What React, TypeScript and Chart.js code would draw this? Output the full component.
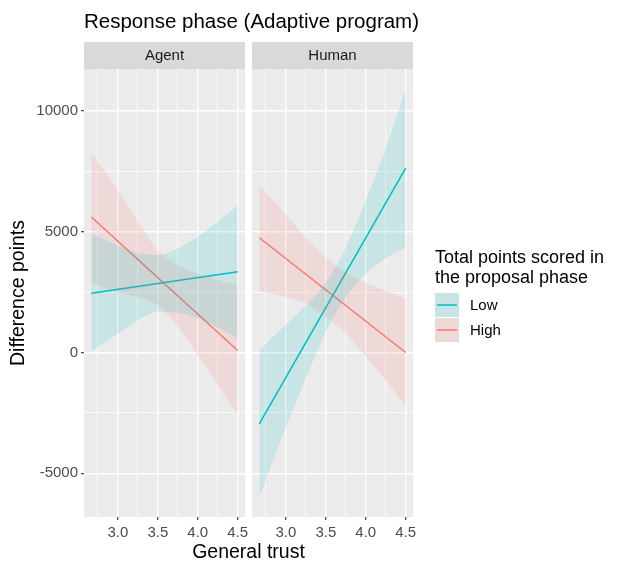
import React, { useEffect, useRef } from "react";
import { Chart, registerables } from "chart.js";

Chart.register(...registerables);

const FONT = "'Liberation Sans', Arial, Helvetica, sans-serif";

// ---------- data ----------
const facets = ["Agent", "Human"];
const groups = ["Low", "High"];
const groupColors = ["#00BFC4", "#F8766D"];
const bandFills = ["rgba(0,191,196,0.15)", "rgba(248,118,109,0.15)"];

const legendTitle = ["Total points scored in", "the proposal phase"];
const chartTitle = "Response phase (Adaptive program)";
const xTitle = "General trust";
const yTitle = "Difference points";

const bandX = [2.667, 3.0, 3.25, 3.5, 3.75, 4.0, 4.25, 4.5];
const lineX = [2.667, 4.5];

// Agent facet
const agentLowLine = [2451, 3346];
const agentLowUpper = [4930, 4448, 4131, 4035, 4310, 4792, 5412, 6100];
const agentLowLower = [40, 780, 1341, 1681, 1650, 1412, 1036, 592];
const agentHighLine = [5611, 83];
const agentHighUpper = [8262, 6720, 5412, 4241, 3621, 3277, 3002, 2768];
const agentHighLower = [2900, 2492, 2292, 1955, 1067, -97, -1330, -2602];

// Human facet
const humanLowLine = [-2955, 7641];
const humanLowUpper = [112, 1150, 1950, 2900, 4350, 6300, 8450, 10900];
const humanLowLower = [-5970, -3100, -1064, 850, 2300, 3250, 3900, 4326];
const humanHighLine = [4754, 0];
const humanHighUpper = [6904, 5731, 4765, 3937, 3316, 2902, 2557, 2240];
const humanHighLower = [2553, 2304, 2028, 1477, 787, -179, -1145, -2249];

// ticks
const xMajor = [3.0, 3.5, 4.0, 4.5];
const xMinor = [2.75, 3.25, 3.75, 4.25];
const yMajor = [-5000, 0, 5000, 10000];
const yMinor = [-2500, 2500, 7500];

// ---------- layout constants ----------
const W = 626;
const H = 561;
const PLOT_TOP = 69;
const PLOT_BOTTOM = 517;
const P1_LEFT = 84;
const P_WIDTH = 161;
const GAP = 7;
const P2_LEFT = P1_LEFT + P_WIDTH + GAP;
const STRIP_TOP = 42;
const TICK_SIZE = 15;

// ---------- scale ranges (ggplot-like 5% expansion) ----------
const allY = [
  ...agentLowUpper, ...agentLowLower, ...agentHighUpper, ...agentHighLower,
  ...humanLowUpper, ...humanLowLower, ...humanHighUpper, ...humanHighLower,
  ...agentLowLine, ...agentHighLine, ...humanLowLine, ...humanHighLine,
];
const yLo = Math.min(...allY);
const yHi = Math.max(...allY);
const yMin = yLo - 0.05 * (yHi - yLo);
const yMax = yHi + 0.05 * (yHi - yLo);
const xLo = Math.min(...bandX);
const xHi = Math.max(...bandX);
const xMin = xLo - 0.05 * (xHi - xLo);
const xMax = xHi + 0.05 * (xHi - xLo);

const near = (arr: number[], v: number) => arr.some((a) => Math.abs(a - v) < 1e-6);

function pts(xs: number[], ys: number[]) {
  return xs.map((x, i) => ({ x, y: ys[i] }));
}

function facetDatasets(
  lowUpper: number[], lowLower: number[], lowLine: number[],
  highUpper: number[], highLower: number[], highLine: number[]
) {
  const band = (up: number[], lo: number[], gi: number) => [
    {
      label: groups[gi] + " upper",
      data: pts(bandX, up),
      borderWidth: 0,
      borderColor: "rgba(0,0,0,0)",
      pointRadius: 0,
      fill: false,
      cubicInterpolationMode: "monotone",
    },
    {
      label: groups[gi] + " lower",
      data: pts(bandX, lo),
      borderWidth: 0,
      borderColor: "rgba(0,0,0,0)",
      backgroundColor: bandFills[gi],
      pointRadius: 0,
      fill: "-1",
      cubicInterpolationMode: "monotone",
    },
  ];
  const line = (ys: number[], gi: number) => ({
    label: groups[gi],
    data: pts(lineX, ys),
    borderWidth: 1.5,
    borderColor: groupColors[gi],
    pointRadius: 0,
    fill: false,
  });
  return [
    ...band(lowUpper, lowLower, 0),
    ...band(highUpper, highLower, 1),
    line(lowLine, 0),
    line(highLine, 1),
  ];
}

function makeScales(isLeft: boolean) {
  return {
    x: {
      type: "linear",
      min: xMin,
      max: xMax,
      afterBuildTicks: (s: any) => {
        s.ticks = [...xMinor, ...xMajor].sort((a, b) => a - b).map((v) => ({ value: v }));
      },
      afterFit: (s: any) => {
        s.height = H - PLOT_BOTTOM;
      },
      border: { display: false },
      grid: {
        color: "#FFFFFF",
        lineWidth: (c: any) => (c.tick && near(xMajor, c.tick.value) ? 1.4 : 0.7),
        tickColor: (c: any) => (c.tick && near(xMajor, c.tick.value) ? "#333333" : "rgba(0,0,0,0)"),
        tickLength: 3,
        tickWidth: 1.1,
        drawTicks: true,
      },
      ticks: {
        autoSkip: false,
        maxRotation: 0,
        minRotation: 0,
        padding: 4,
        color: "#4D4D4D",
        font: { family: FONT, size: TICK_SIZE },
        callback: (v: any) => (near(xMajor, Number(v)) ? Number(v).toFixed(1) : ""),
      },
    },
    y: {
      type: "linear",
      min: yMin,
      max: yMax,
      afterBuildTicks: (s: any) => {
        s.ticks = [...yMinor, ...yMajor].sort((a, b) => a - b).map((v) => ({ value: v }));
      },
      afterFit: (s: any) => {
        s.width = isLeft ? P1_LEFT : 0;
      },
      border: { display: false },
      grid: {
        color: "#FFFFFF",
        lineWidth: (c: any) => (c.tick && near(yMajor, c.tick.value) ? 1.4 : 0.7),
        tickColor: (c: any) => (c.tick && near(yMajor, c.tick.value) ? "#333333" : "rgba(0,0,0,0)"),
        tickLength: 3,
        tickWidth: 1.1,
        drawTicks: isLeft,
      },
      ticks: {
        display: isLeft,
        autoSkip: false,
        padding: 3,
        color: "#4D4D4D",
        font: { family: FONT, size: TICK_SIZE },
        callback: (v: any) => (near(yMajor, Number(v)) ? String(Math.round(Number(v))) : ""),
      },
    },
  };
}

const decorPlugin = {
  id: "decor",
  beforeDraw(chart: any, _args: any, opts: any) {
    const { ctx, chartArea } = chart;
    ctx.save();
    ctx.fillStyle = "#EBEBEB";
    ctx.fillRect(chartArea.left, chartArea.top, chartArea.right - chartArea.left, chartArea.bottom - chartArea.top);
    ctx.fillStyle = "#D9D9D9";
    ctx.fillRect(chartArea.left, STRIP_TOP, chartArea.right - chartArea.left, chartArea.top - STRIP_TOP);
    ctx.fillStyle = "#1A1A1A";
    ctx.font = `15px ${FONT}`;
    ctx.textAlign = "center";
    ctx.textBaseline = "middle";
    ctx.fillText(opts.facet, (chartArea.left + chartArea.right) / 2, (STRIP_TOP + chartArea.top) / 2 + 0.5);
    ctx.restore();
  },
  afterDraw(chart: any, _args: any, opts: any) {
    const { ctx, chartArea } = chart;
    ctx.save();
    if (opts.main) {
      ctx.fillStyle = "#000000";
      ctx.font = `20.5px ${FONT}`;
      ctx.textAlign = "left";
      ctx.textBaseline = "alphabetic";
      ctx.fillText(chartTitle, chartArea.left, 28);

      ctx.font = `19.5px ${FONT}`;
      ctx.textAlign = "center";
      ctx.fillText(xTitle, (P1_LEFT + P2_LEFT + P_WIDTH) / 2, 558);

      ctx.translate(24, (PLOT_TOP + PLOT_BOTTOM) / 2);
      ctx.rotate(-Math.PI / 2);
      ctx.fillText(yTitle, 0, 0);
    }
    if (opts.legend) {
      const x0 = chartArea.right + 22;
      ctx.fillStyle = "#000000";
      ctx.font = `18px ${FONT}`;
      ctx.textAlign = "left";
      ctx.textBaseline = "alphabetic";
      ctx.fillText(legendTitle[0], x0, 262.5);
      ctx.fillText(legendTitle[1], x0, 282.5);
      groups.forEach((g, i) => {
        const ky = 293 + i * 25;
        ctx.fillStyle = "#EBEBEB";
        ctx.fillRect(x0, ky, 24, 24);
        ctx.fillStyle = bandFills[i];
        ctx.fillRect(x0, ky, 24, 24);
        ctx.strokeStyle = groupColors[i];
        ctx.lineWidth = 1.5;
        ctx.beginPath();
        ctx.moveTo(x0 + 2, ky + 12);
        ctx.lineTo(x0 + 22, ky + 12);
        ctx.stroke();
        ctx.fillStyle = "#000000";
        ctx.font = `15px ${FONT}`;
        ctx.textBaseline = "middle";
        ctx.fillText(g, x0 + 35, ky + 12.5);
      });
    }
    ctx.restore();
  },
};

function makeConfig(facetIdx: number, datasets: any[], canvasWidth: number, isLeft: boolean) {
  return {
    type: "line",
    data: { datasets },
    options: {
      animation: false,
      responsive: false,
      maintainAspectRatio: false,
      devicePixelRatio: 1,
      layout: {
        padding: { top: PLOT_TOP, left: 0, bottom: 0, right: canvasWidth - (isLeft ? P1_LEFT : 0) - P_WIDTH },
      },
      scales: makeScales(isLeft),
      plugins: {
        legend: { display: false },
        title: { display: false },
        tooltip: { enabled: false },
        decor: { facet: facets[facetIdx], main: isLeft, legend: !isLeft },
      },
    },
    plugins: [decorPlugin],
  };
}

export default function App() {
  const ref1 = useRef<HTMLCanvasElement | null>(null);
  const ref2 = useRef<HTMLCanvasElement | null>(null);

  useEffect(() => {
    const c1 = new Chart(
      ref1.current as HTMLCanvasElement,
      makeConfig(
        0,
        facetDatasets(agentLowUpper, agentLowLower, agentLowLine, agentHighUpper, agentHighLower, agentHighLine),
        W,
        true
      ) as any
    );
    const c2 = new Chart(
      ref2.current as HTMLCanvasElement,
      makeConfig(
        1,
        facetDatasets(humanLowUpper, humanLowLower, humanLowLine, humanHighUpper, humanHighLower, humanHighLine),
        W - P2_LEFT,
        false
      ) as any
    );
    return () => {
      c1.destroy();
      c2.destroy();
    };
  }, []);

  return (
    <div style={{ position: "absolute", left: 0, top: 0, width: W, height: H, background: "#FFFFFF" }}>
      <canvas ref={ref1} width={W} height={H} style={{ position: "absolute", left: 0, top: 0 }} />
      <canvas
        ref={ref2}
        width={W - P2_LEFT}
        height={H}
        style={{ position: "absolute", left: P2_LEFT, top: 0 }}
      />
    </div>
  );
}
